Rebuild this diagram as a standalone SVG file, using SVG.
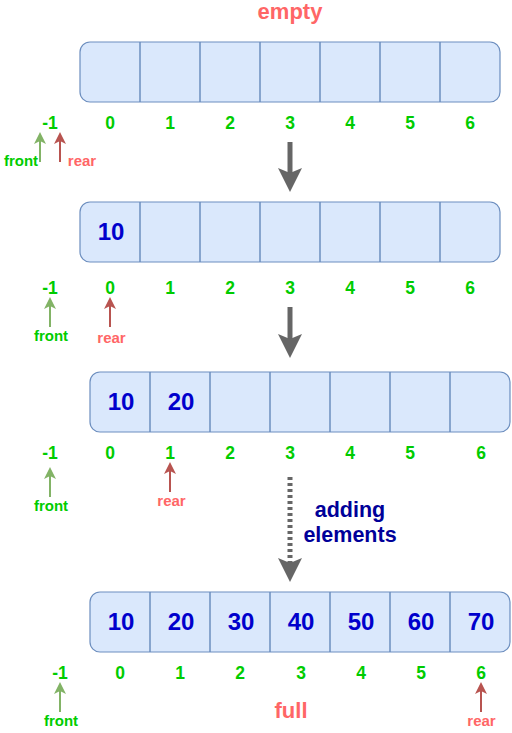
<svg xmlns="http://www.w3.org/2000/svg" width="512" height="733" viewBox="0 0 512 733">
<style>
text{font-family:"Liberation Sans",Arial,sans-serif;font-weight:bold;text-anchor:middle}
.box{fill:#dae8fc;stroke:#6c8ebf;stroke-width:1.2}
.div{stroke:#6c8ebf;stroke-width:1.5}
.val{fill:#0000CC;font-size:24px}
.idx{fill:#00CC00;font-size:17.5px}
.fr{fill:#00CC00;font-size:15px}
.re{fill:#FF6666;font-size:15px}
.ttl{fill:#FF6666;font-size:22px}
.add{fill:#000099;font-size:21.5px}
.ga{stroke:#82b366;stroke-width:2;fill:none;marker-end:url(#mg)}
.ra{stroke:#b85450;stroke-width:2;fill:none;marker-end:url(#mr)}
.big{stroke:#666666;stroke-width:5;fill:none;marker-end:url(#mb)}
</style>
<defs>
<marker id="mg" viewBox="0 0 12 12" markerUnits="userSpaceOnUse" markerWidth="12" markerHeight="12" refX="4" refY="6" orient="auto"><path d="M0,0 L12,6 L0,12 L3,6 Z" fill="#82b366"/></marker>
<marker id="mr" viewBox="0 0 12 12" markerUnits="userSpaceOnUse" markerWidth="12" markerHeight="12" refX="4" refY="6" orient="auto"><path d="M0,0 L12,6 L0,12 L3,6 Z" fill="#b85450"/></marker>
<marker id="mb" viewBox="0 0 24 24" markerUnits="userSpaceOnUse" markerWidth="24" markerHeight="24" refX="8" refY="12" orient="auto"><path d="M0,0 L24,12 L0,24 L5,12 Z" fill="#666666"/></marker>
</defs>

<text class="ttl" x="290" y="18.5">empty</text>

<g id="array1">
<rect class="box" x="80" y="42" width="420" height="60" rx="10"/>
<path class="div" d="M140,42V102M200,42V102M260,42V102M320,42V102M380,42V102M440,42V102"/>
</g>
<g id="index1">
<text class="idx" x="50" y="128.5">-1</text><text class="idx" x="110" y="128.5">0</text><text class="idx" x="170" y="128.5">1</text><text class="idx" x="230" y="128.5">2</text><text class="idx" x="290" y="128.5">3</text><text class="idx" x="350" y="128.5">4</text><text class="idx" x="410" y="128.5">5</text><text class="idx" x="470" y="128.5">6</text>
</g>
<g id="ptr1">
<text class="fr" x="21" y="166">front</text>
<text class="re" x="82" y="166">rear</text>
</g>

<g id="array2">
<rect class="box" x="80" y="202" width="420" height="60" rx="10"/>
<path class="div" d="M140,202V262M200,202V262M260,202V262M320,202V262M380,202V262M440,202V262"/>
<text class="val" x="111" y="240">10</text>
</g>
<g id="index2">
<text class="idx" x="50" y="293.5">-1</text><text class="idx" x="110" y="293.5">0</text><text class="idx" x="170" y="293.5">1</text><text class="idx" x="230" y="293.5">2</text><text class="idx" x="290" y="293.5">3</text><text class="idx" x="350" y="293.5">4</text><text class="idx" x="410" y="293.5">5</text><text class="idx" x="470" y="293.5">6</text>
</g>
<g id="ptr2">
<text class="fr" x="51" y="341">front</text>
<text class="re" x="111.5" y="343">rear</text>
</g>

<g id="array3">
<rect class="box" x="90" y="372" width="420" height="60" rx="10"/>
<path class="div" d="M150,372V432M210,372V432M270,372V432M330,372V432M390,372V432M450,372V432"/>
<text class="val" x="121" y="410">10</text><text class="val" x="181" y="410">20</text>
</g>
<g id="index3">
<text class="idx" x="50" y="458.5">-1</text><text class="idx" x="110" y="458.5">0</text><text class="idx" x="170" y="458.5">1</text><text class="idx" x="230" y="458.5">2</text><text class="idx" x="290" y="458.5">3</text><text class="idx" x="350" y="458.5">4</text><text class="idx" x="410" y="458.5">5</text><text class="idx" x="481" y="458.5">6</text>
</g>
<g id="ptr3">
<text class="fr" x="51" y="511">front</text>
<text class="re" x="171.5" y="506">rear</text>
</g>

<g id="label-adding">
<text class="add" x="350" y="517">adding</text>
<text class="add" x="350" y="542">elements</text>
</g>

<g id="array4">
<rect class="box" x="90" y="592" width="420" height="60" rx="10"/>
<path class="div" d="M150,592V652M210,592V652M270,592V652M330,592V652M390,592V652M450,592V652"/>
<text class="val" x="121" y="630">10</text><text class="val" x="181" y="630">20</text><text class="val" x="241" y="630">30</text><text class="val" x="301" y="630">40</text><text class="val" x="361" y="630">50</text><text class="val" x="421" y="630">60</text><text class="val" x="481" y="630">70</text>
</g>
<g id="index4">
<text class="idx" x="60" y="678.5">-1</text><text class="idx" x="120" y="678.5">0</text><text class="idx" x="180" y="678.5">1</text><text class="idx" x="240" y="678.5">2</text><text class="idx" x="301" y="678.5">3</text><text class="idx" x="361" y="678.5">4</text><text class="idx" x="421" y="678.5">5</text><text class="idx" x="481" y="678.5">6</text>
</g>
<g id="ptr4">
<text class="fr" x="61" y="726">front</text>
<text class="re" x="481.5" y="726">rear</text>
<text class="ttl" x="291" y="718">full</text>
</g>

<g id="connectors">
<path class="ga" d="M40,162V140"/>
<path class="ra" d="M60,162V140"/>
<path class="big" d="M290,142V176"/>
<path class="ga" d="M50,327V305"/>
<path class="ra" d="M110,327V305"/>
<path class="big" d="M290,307V342"/>
<path class="ga" d="M50,497V475"/>
<path class="ra" d="M170,492V470"/>
<path class="big" d="M290,477V566" stroke-dasharray="3 3"/>
<path class="ga" d="M60,712V690"/>
<path class="ra" d="M481,712V690"/>
</g>
</svg>
